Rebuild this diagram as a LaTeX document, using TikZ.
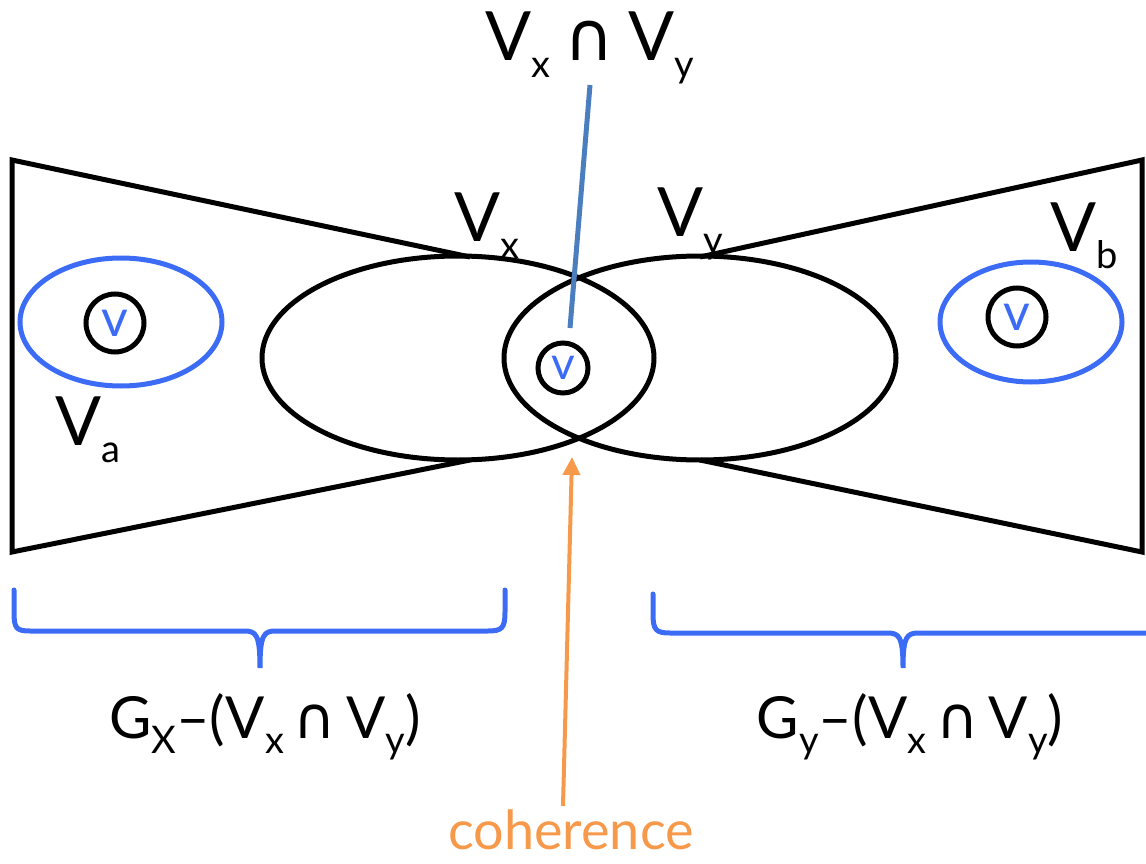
\documentclass[tikz,border=0pt]{standalone}
\usepackage{fontspec}
\setmainfont{Lato}
\newfontfamily\symf{DejaVu Sans}
\usetikzlibrary{arrows.meta,shapes.geometric}
\definecolor{vblue}{RGB}{60,108,246}
\definecolor{lineblue}{RGB}{74,126,190}
\definecolor{orng}{RGB}{247,153,74}
\newcommand{\mysub}[1]{\raisebox{-0.25em}{\fontsize{38}{40}\selectfont #1}}
\newcommand{\mycap}{{\symf ∩}}
\newcommand{\bigtxt}{\fontsize{68}{70}\selectfont}
\newcommand{\midtxt}{\fontsize{58}{60}\selectfont}
\begin{document}
\begin{tikzpicture}[x=1pt,y=-1pt,line width=5pt,
  bigell/.style={ellipse,draw,minimum width=392,minimum height=204,inner sep=0},
  smallell/.style={ellipse,draw=vblue,minimum width=#1,inner sep=0},
  vnode/.style={circle,draw,minimum size=58,inner sep=0,text=vblue,font=\fontsize{52}{52}\selectfont},
  lbl/.style={inner sep=0,font=\bigtxt},
  brace/.style={draw=vblue,line width=5pt,line cap=round}]
\useasboundingbox (0,0) rectangle (1146,864);

% trapezoids
\draw[line join=miter] (470,257) -- (12,160) -- (12,552) -- (470,460);
\draw[line join=miter] (700,257) -- (1142,160) -- (1142,552) -- (700,460);

% Venn ellipses
\node[bigell] (ex) at (458,358) {};
\node[bigell] (ey) at (700,358) {};

% side sets
\node[smallell=202,minimum height=128] (sa) at (121,322) {};
\node[vnode] (va) at (115,323) {v};
\node[smallell=182,minimum height=120] (sb) at (1031,322) {};
\node[vnode] (vb) at (1017,317) {v};
\node[vnode,minimum size=50,font=\fontsize{46}{46}\selectfont] (vm) at (563,368) {v};

% labels
\node[lbl] (lxy) at (590,48) {V\mysub{x}\hspace{14pt}\mycap\hspace{14pt}V\mysub{y}};
\node[lbl] (lx) at (487,226) {V\mysub{x}};
\node[lbl] (ly) at (690,224) {V\mysub{y}};
\node[lbl] (lb) at (1084,236) {V\mysub{b}};
\node[lbl] (la) at (88,430) {V\mysub{a}};

\coordinate (lineend) at (570,328);
\draw[lineblue] (590,85) -- (lineend);

% braces
\draw[brace] (14,590) -- (14,612) .. controls (14,628) and (16,631) .. (30,631)
  -- (244,631) .. controls (256,631) and (260,634) .. (260,668)
  .. controls (260,634) and (264,631) .. (276,631)
  -- (488,631) .. controls (502,631) and (505,628) .. (505,612) -- (505,590);
\draw[brace] (653,594) -- (653,614) .. controls (653,630) and (656,633) .. (670,633)
  -- (887,633) .. controls (899,633) and (903,636) .. (903,668)
  .. controls (903,636) and (907,633) .. (919,633) -- (1150,633);

\node[inner sep=0,font=\midtxt] (gx) at (265,727) {G\mysub{X}–(V\mysub{x}\hspace{10pt}\mycap\hspace{10pt}V\mysub{y})};
\node[inner sep=0,font=\midtxt] (gy) at (910,727) {G\mysub{y}–(V\mysub{x}\hspace{10pt}\mycap\hspace{10pt}V\mysub{y})};

% coherence
\node[inner sep=0,text=orng,font=\fontsize{54}{56}\selectfont,anchor=base] (coh) at (571,849) {coherence};
\coordinate (cohtip) at (572,457);
\draw[orng,line width=4pt,-{Triangle[length=18pt,width=17pt]}] (563,806) -- (cohtip);
\end{tikzpicture}
\end{document}
